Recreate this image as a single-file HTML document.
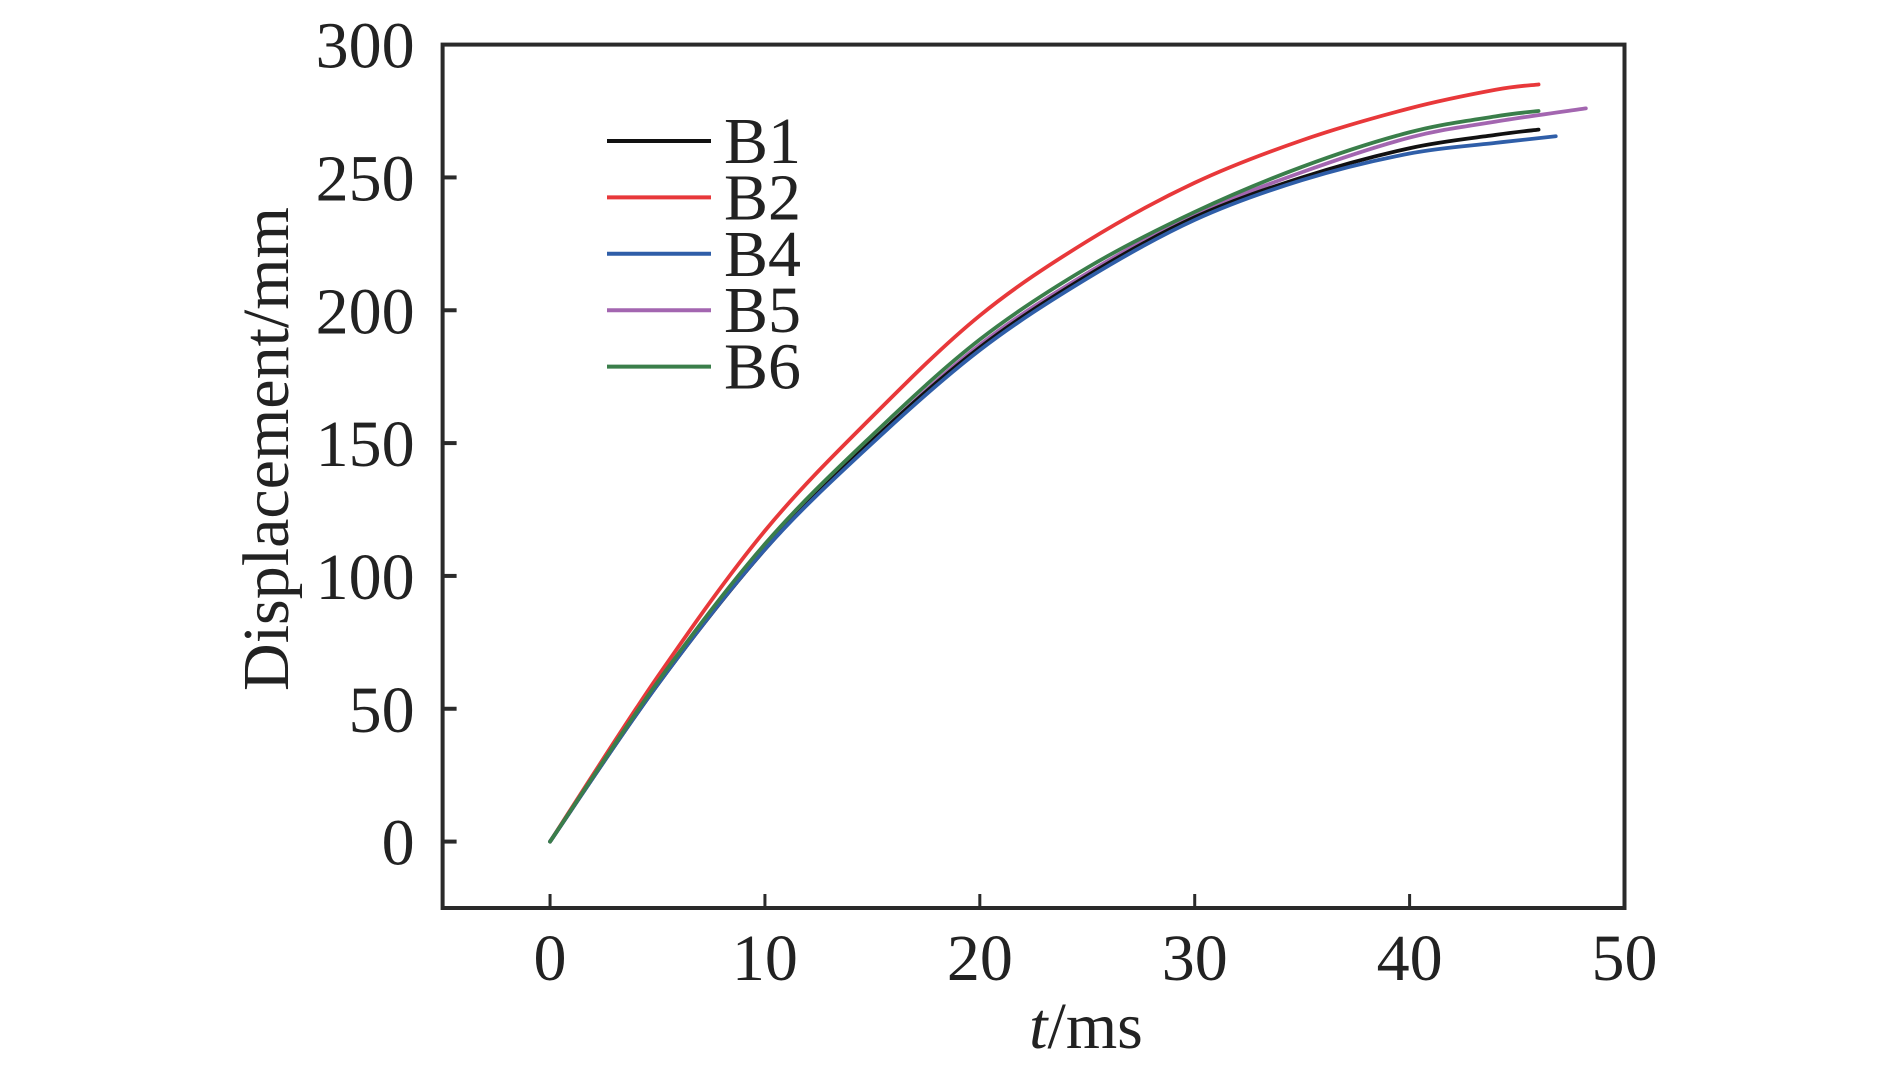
<!DOCTYPE html>
<html><head><meta charset="utf-8"><style>
html,body{margin:0;padding:0;background:#fff;}
svg{display:block;font-family:"Liberation Serif",serif;}
</style></head><body>
<svg id="chart" width="1890" height="1075" viewBox="0 0 1890 1075"></svg>
<script>
const tB1=[0,5,10,15,20,25,30,35,40,44,46];
const yB1=[0,59,110,151,186,213,235,250,261,266,268];
const tB2=[0,5,10,15,20,25,30,35,40,44,46];
const yB2=[0,62,117,160,198,226,248,264,276,283,285];
const tB4=[0,5,10,15,20,25,30,35,40,44,46.8];
const yB4=[0,59,110,150,185,212,234,249,259,263,265.5];
const tB5=[0,5,10,15,20,25,30,35,40,44,48.2];
const yB5=[0,59,110,151,187,214,236,252,265,271,276];
const tB6=[0,5,10,15,20,25,30,35,40,44,46];
const yB6=[0,60,112,153,189,216,237,254,267,273,275];
const seriesNames=["B1","B2","B4","B5","B6"];
const xTicks=[0,10,20,30,40,50];
const yTicks=[0,50,100,150,200,250,300];

const L=442.6,R=1624.5,T=44.6,B=908;
const xMin=-5,xMax=50,yMin=-25,yMax=300;
const sx=v=>L+(v-xMin)/(xMax-xMin)*(R-L);
const sy=v=>B-(v-yMin)/(yMax-yMin)*(B-T);
const NS="http://www.w3.org/2000/svg";
const svg=document.getElementById('chart');
function mk(tag,attrs,parent){const e=document.createElementNS(NS,tag);for(const k in attrs)e.setAttribute(k,attrs[k]);(parent||svg).appendChild(e);return e;}

const colors=["#111111","#e8383a","#2f5ea8","#a366b0","#3a7e4a"];
const data=[[tB1,yB1],[tB2,yB2],[tB4,yB4],[tB5,yB5],[tB6,yB6]];
function smoothPath(ts,ys){
  const p=ts.map((t,i)=>[sx(t),sy(ys[i])]);
  let d="M"+p[0][0]+","+p[0][1];
  for(let i=0;i<p.length-1;i++){
    const p0=p[Math.max(0,i-1)],p1=p[i],p2=p[i+1],p3=p[Math.min(p.length-1,i+2)];
    const c1=[p1[0]+(p2[0]-p0[0])/6,p1[1]+(p2[1]-p0[1])/6];
    const c2=[p2[0]-(p3[0]-p1[0])/6,p2[1]-(p3[1]-p1[1])/6];
    d+=" C"+c1[0]+","+c1[1]+" "+c2[0]+","+c2[1]+" "+p2[0]+","+p2[1];
  }
  return d;
}
const order=[1,3,0,2,4];
order.forEach(i=>{
  const path=mk('path',{d:smoothPath(data[i][0],data[i][1]),fill:'none',stroke:colors[i],'stroke-width':3.8,'stroke-linecap':'round'});
  
  
});
const frame=mk('rect',{x:L,y:T,width:R-L,height:B-T,fill:'none',stroke:'#2a2a2a','stroke-width':4});


yTicks.forEach(v=>{
  const y=sy(v);
  if(v<300){const tk=mk('line',{x1:L,x2:L+14,y1:y,y2:y,stroke:'#2a2a2a','stroke-width':4});
  
  }
  const tx=mk('text',{x:L-28,y:y+23,'text-anchor':'end','font-size':66,fill:'#222'});
  tx.textContent=v;
  
  
});
xTicks.forEach(v=>{
  const x=sx(v);
  if(v<50){const tk=mk('line',{x1:x,x2:x,y1:B,y2:B-14,stroke:'#2a2a2a','stroke-width':3});
  
  }
  const tx=mk('text',{x:x,y:B+72,'text-anchor':'middle','font-size':66,fill:'#222'});
  tx.textContent=v;
  
  
});
const yt=mk('text',{x:0,y:0,transform:'translate(288,449) rotate(-90)','text-anchor':'middle','font-size':66,fill:'#222'});
yt.textContent='Displacement/mm';


const xt=mk('text',{x:1086,y:1048,'text-anchor':'middle','font-size':66,fill:'#222'});
xt.innerHTML='<tspan font-style="italic">t</tspan>/ms';


const lg=mk('g',{});


seriesNames.forEach((n,i)=>{
  const y=141+i*56.4;
  const g=mk('g',{},lg);
  
  
  mk('line',{x1:607,x2:711,y1:y,y2:y,stroke:colors[i],'stroke-width':4},g);
  const t=mk('text',{x:724,y:y+22,'font-size':66,fill:'#222'},g);
  t.textContent=n;
});
</script>
</body></html>
